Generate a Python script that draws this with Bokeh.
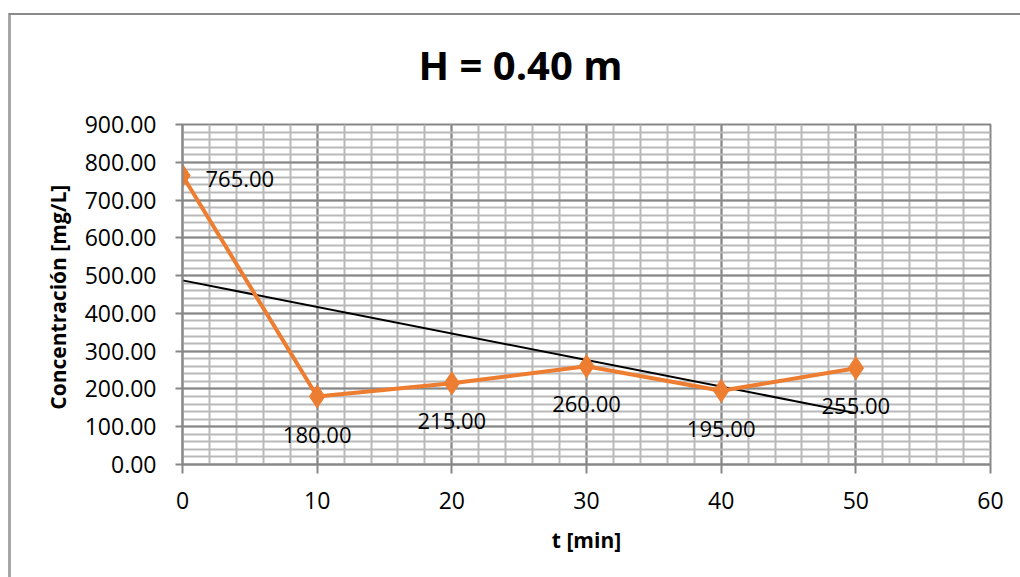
import numpy as np
from bokeh.plotting import figure
from bokeh.models import (SingleIntervalTicker, NumeralTickFormatter, Range1d,
                          ColumnDataSource, Title)
from bokeh.core.properties import value
from bokeh.embed import file_html
from bokeh.resources import INLINE

# ---- data ----
t_min = [0, 10, 20, 30, 40, 50]
conc = [765.0, 180.0, 215.0, 260.0, 195.0, 255.0]
conc_labels = ["765.00", "180.00", "215.00", "260.00", "195.00", "255.00"]
title_text = "H = 0.40 m"
x_title = "t [min]"
y_title = "Concentración  [mg/L]"

FONT = "Open Sans"
ORANGE = "#ED7D31"
MAJ = "#878787"
MIN = "#b9b9b9"

W, H = 1020, 577
p = figure(width=W, height=H, output_backend="svg", toolbar_location=None,
           x_range=Range1d(0, 60), y_range=Range1d(0, 900),
           min_border_left=182, min_border_right=30,
           min_border_top=124, min_border_bottom=113)
# chart-area border (top and left edges visible), drawn behind a transparent canvas
p.styles = {"background": "linear-gradient(#8a8a8a,#8a8a8a) 9px 13px / 1011px 2px no-repeat, "
                          "linear-gradient(#a6a6a6,#a6a6a6) 8px 13px / 3px 564px no-repeat, white"}
p.background_fill_color = "white"
p.border_fill_color = None
p.outline_line_color = MAJ
p.outline_line_width = 2

p.add_layout(Title(text=title_text, align="left", offset=236,
                   text_font=FONT, text_font_size="40px", text_font_style="bold",
                   text_color="black", standoff=65), "above")

p.xaxis.ticker = SingleIntervalTicker(interval=10, num_minor_ticks=5)
p.yaxis.ticker = SingleIntervalTicker(interval=100, num_minor_ticks=5)
p.yaxis.formatter = NumeralTickFormatter(format="0.00")

for ax in (p.xaxis, p.yaxis):
    ax.axis_line_color = MAJ
    ax.axis_line_width = 2
    ax.major_tick_line_color = MAJ
    ax.major_tick_line_width = 2
    ax.major_tick_in = 0
    ax.minor_tick_line_color = None
    ax.major_label_text_font = FONT
    ax.major_label_text_font_size = "23px"
    ax.major_label_text_color = "black"
    ax.axis_label_text_font = FONT
    ax.axis_label_text_font_style = "bold"
    ax.axis_label_text_font_size = "21px"
    ax.axis_label_text_color = "black"

p.xaxis.major_tick_out = 9
p.yaxis.major_tick_out = 7
p.xaxis.major_label_standoff = 18
p.yaxis.major_label_standoff = 19
p.xaxis.axis_label = x_title
p.yaxis.axis_label = y_title
p.xaxis.axis_label_standoff = 14
p.yaxis.axis_label_standoff = 10

for g in (p.xgrid, p.ygrid):
    g.grid_line_color = MAJ
    g.grid_line_width = 2
    g.minor_grid_line_color = MIN
    g.minor_grid_line_width = 2

# trendline (linear least squares fit of the series)
slope, intercept = np.polyfit(t_min, conc, 1)
tx = [t_min[0], t_min[-1]]
ty = [intercept + slope * v for v in tx]
p.line(tx, ty, line_color="black", line_width=2)

src = ColumnDataSource(dict(x=t_min, y=conc, lab=conc_labels))
p.line("x", "y", source=src, line_color=ORANGE, line_width=4)
p.scatter("x", "y", source=src, marker="diamond", size=23,
          fill_color=ORANGE, line_color=ORANGE)

# data labels: first to the right, rest below
xo = [23] + [0] * (len(t_min) - 1)
yo = [3] + [38] * (len(t_min) - 1)
al = ["left"] + ["center"] * (len(t_min) - 1)
lsrc = ColumnDataSource(dict(x=t_min, y=conc, lab=conc_labels, xo=xo, yo=yo, al=al))
p.text("x", "y", text="lab", source=lsrc, x_offset="xo", y_offset="yo",
       text_align="al", text_baseline="middle", text_font=value(FONT),
       text_font_size="22px", text_color="black")

open("out.html", "w").write(file_html(p, INLINE))
